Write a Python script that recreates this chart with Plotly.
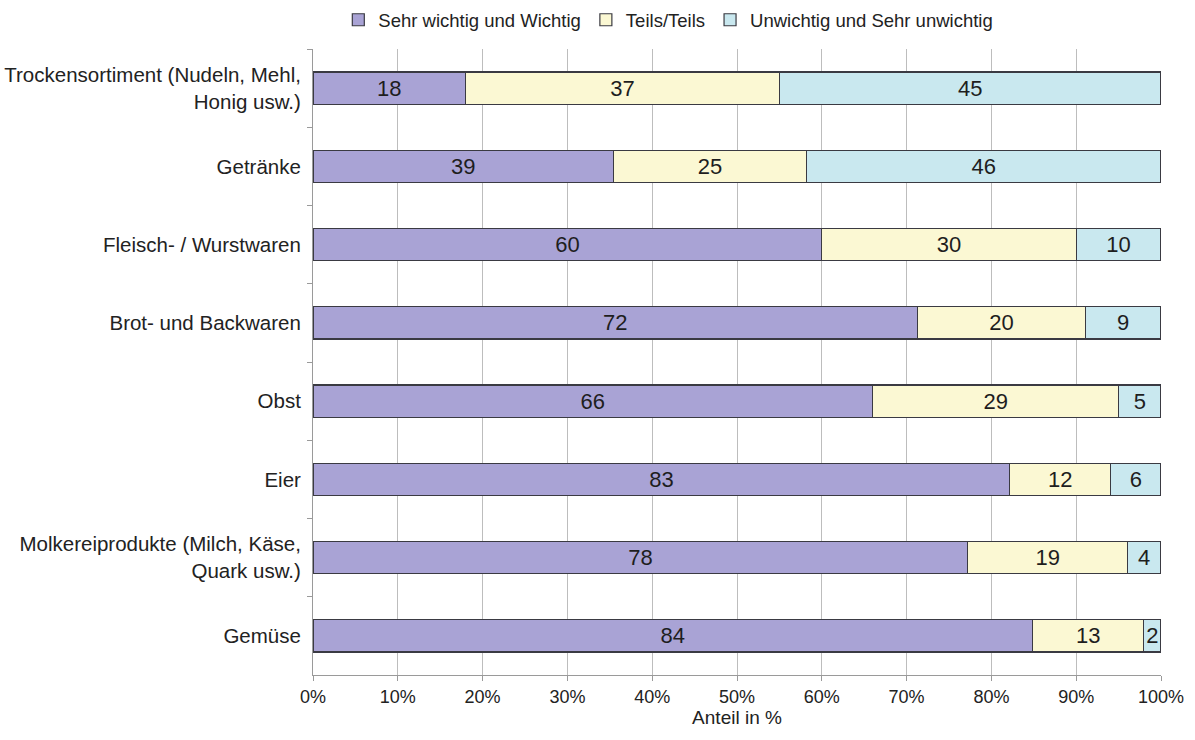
import plotly.graph_objects as go

# Produktgruppen (von oben nach unten)
categories = [
    "Trockensortiment (Nudeln, Mehl,<br>Honig usw.)",
    "Getränke",
    "Fleisch- / Wurstwaren",
    "Brot- und Backwaren",
    "Obst",
    "Eier",
    "Molkereiprodukte (Milch, Käse,<br>Quark usw.)",
    "Gemüse",
]

wichtig = [18, 39, 60, 72, 66, 83, 78, 84]
teils = [37, 25, 30, 20, 29, 12, 19, 13]
unwichtig = [45, 46, 10, 9, 5, 6, 4, 2]

x_ticks = [0, 10, 20, 30, 40, 50, 60, 70, 80, 90, 100]
x_ticklabels = [f"{t}%" for t in x_ticks]

series = [
    ("Sehr wichtig und Wichtig", wichtig, "#A9A3D5"),
    ("Teils/Teils", teils, "#FBF8D3"),
    ("Unwichtig und Sehr unwichtig", unwichtig, "#C9E8EF"),
]

FONT = "Liberation Sans, Arial, sans-serif"

fig = go.Figure()
for name, vals, color in series:
    fig.add_trace(go.Bar(
        name=name,
        y=categories,
        x=vals,
        orientation="h",
        marker=dict(color=color, line=dict(color="#3a3a42", width=1.2)),
        text=[str(v) for v in vals],
        textposition="inside",
        insidetextanchor="middle",
        constraintext="none",
        textangle=0,
        textfont=dict(family=FONT, size=22, color="#1e1e1e"),
        width=0.41,
    ))

fig.update_layout(
    barmode="stack",
    barnorm="percent",
    width=1195,
    height=740,
    margin=dict(l=313, r=34, t=49, b=65, autoexpand=False),
    paper_bgcolor="white",
    plot_bgcolor="white",
    font=dict(family=FONT, size=18, color="#222222"),
    legend=dict(
        orientation="h",
        x=0.419,
        xanchor="center",
        y=1.046,
        yanchor="middle",
        font=dict(size=18.5, color="#222222"),
        traceorder="normal",
        itemwidth=30,
        tracegroupgap=0,
    ),
    xaxis=dict(
        range=[0, 100],
        tickmode="array",
        tickvals=x_ticks,
        ticktext=x_ticklabels,
        tickangle=0,
        showgrid=True,
        gridcolor="#bdbdbd",
        gridwidth=1.2,
        showline=True,
        linecolor="#9a9a9a",
        ticks="outside",
        ticklen=5,
        tickcolor="#9a9a9a",
        zeroline=False,
        title=dict(text="Anteil in %", font=dict(size=19), standoff=4),
        tickfont=dict(size=18),
    ),
    yaxis=dict(
        autorange="reversed",
        categoryorder="array",
        categoryarray=categories,
        showline=True,
        linecolor="#9a9a9a",
        ticks="outside",
        tickson="boundaries",
        ticklen=5,
        tickcolor="#9a9a9a",
        showgrid=False,
        tickfont=dict(size=20.5),
        ticklabelstandoff=7,
    ),
)

fig.write_html("out.html")
